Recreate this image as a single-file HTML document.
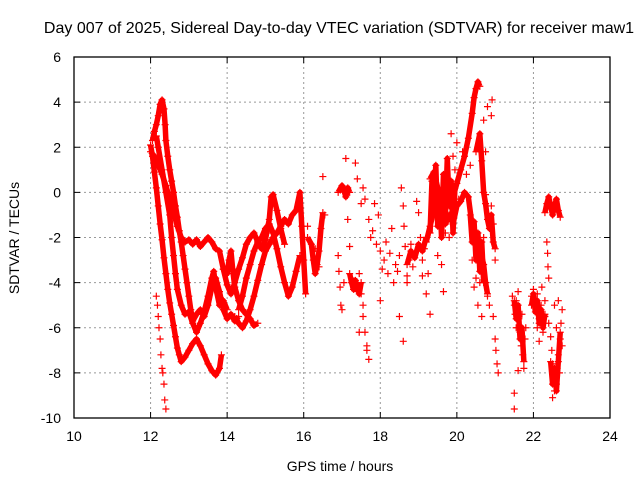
<!DOCTYPE html>
<html><head><meta charset="utf-8"><style>
body{margin:0;background:#fff;}
svg{display:block;font-family:"Liberation Sans",sans-serif;}
</style></head><body>
<svg id="c" width="640" height="480">
<text x="339" y="33" text-anchor="middle" font-size="16">Day 007 of 2025, Sidereal Day-to-day VTEC variation (SDTVAR) for receiver maw1</text>
<text x="340" y="471" text-anchor="middle" font-size="14">GPS time / hours</text>
<text transform="translate(19,238) rotate(-90)" text-anchor="middle" font-size="14">SDTVAR / TECUs</text>
<g id="grid"></g><g id="marks"></g><g id="axes"></g>
</svg>
<script>
const xTicks=[10,12,14,16,18,20,22,24];
const yTicks=[6,4,2,0,-2,-4,-6,-8,-10];
const traceA=[[12.0,2.1],[12.05,1.6],[12.1,0.9],[12.15,0.2],[12.2,-0.6],[12.25,-1.4],[12.3,-2.1],[12.35,-2.9],[12.4,-3.6],[12.45,-4.3],[12.5,-4.9],[12.55,-5.4],[12.6,-5.9],[12.65,-6.4],[12.7,-6.9],[12.75,-7.2],[12.8,-7.5],[12.9,-7.3],[13.0,-7.0],[13.1,-6.7],[13.2,-6.5],[13.3,-6.8],[13.4,-7.2],[13.5,-7.6],[13.6,-7.9],[13.7,-8.1],[13.8,-7.8],[13.85,-7.2]];
const traceB=[[12.05,2.3],[12.1,2.7],[12.15,3.0],[12.2,3.4],[12.25,3.9],[12.3,4.1],[12.35,3.7],[12.38,3.0],[12.4,2.3],[12.45,1.6],[12.5,1.0],[12.55,0.5],[12.6,0.0],[12.65,-0.6],[12.7,-1.1],[12.75,-1.7],[12.8,-2.2],[12.85,-2.8],[12.9,-3.4],[12.95,-4.0],[13.0,-4.6],[13.05,-5.2],[13.1,-5.7],[13.2,-5.4],[13.3,-5.2],[13.4,-5.5],[13.5,-5.0],[13.6,-4.2],[13.7,-3.8],[13.8,-4.4],[13.9,-5.2],[14.0,-5.6],[14.1,-5.4],[14.2,-5.7],[14.3,-5.5]];
const traceC=[[12.0,1.8],[12.1,1.6],[12.2,1.2],[12.3,0.8],[12.4,0.3],[12.5,-0.3],[12.6,-0.9],[12.7,-1.5],[12.8,-2.0],[12.9,-2.2],[13.0,-2.1],[13.1,-2.3],[13.2,-2.1],[13.3,-2.4],[13.4,-2.2],[13.5,-2.0],[13.6,-2.2],[13.7,-2.5],[13.8,-2.6],[13.9,-3.4],[14.0,-4.1],[14.1,-4.5],[14.2,-4.0],[14.3,-3.4],[14.4,-2.9],[14.5,-2.3],[14.6,-2.0],[14.7,-1.8],[14.8,-2.2],[14.9,-2.5],[15.0,-2.1],[15.1,-1.2],[15.15,-0.2],[15.2,-0.1],[15.3,-0.8],[15.4,-1.6],[15.5,-2.3]];
const traceD=[[12.15,2.5],[12.2,2.0],[12.3,1.0],[12.4,0.0],[12.5,-1.0],[12.55,-2.0],[12.6,-2.8],[12.65,-3.6],[12.7,-4.3],[12.8,-5.0],[12.9,-5.4],[13.0,-5.3],[13.1,-5.8],[13.2,-6.2],[13.3,-5.8],[13.4,-5.3],[13.5,-4.6],[13.6,-3.8],[13.65,-3.5],[13.7,-4.2],[13.8,-5.0],[13.9,-4.8],[14.0,-5.2]];
const traceE=[[14.2,-5.5],[14.3,-5.8],[14.4,-6.0],[14.5,-5.7],[14.6,-5.2],[14.7,-4.6],[14.8,-3.9],[14.9,-3.2],[15.0,-2.6],[15.1,-2.3],[15.2,-2.0],[15.3,-1.8],[15.4,-1.5],[15.5,-1.2],[15.6,-1.4],[15.7,-1.0],[15.8,-0.8],[15.9,0.0],[15.95,-1.5],[16.0,-3.0],[16.05,-4.5]];
const traceF=[[14.3,-5.2],[14.4,-4.6],[14.5,-3.8],[14.6,-3.2],[14.7,-2.6],[14.8,-2.2],[14.9,-2.0],[15.0,-1.6],[15.1,-1.4],[15.2,-1.8],[15.3,-2.5],[15.4,-3.3],[15.5,-4.0],[15.6,-4.6],[15.7,-4.2],[15.8,-3.5],[15.9,-2.8]];
const traceG=[[13.9,-3.4],[14.0,-3.6],[14.05,-3.0],[14.1,-2.6],[14.15,-3.5],[14.2,-4.2],[14.3,-4.8],[14.4,-5.2],[14.5,-5.4],[14.6,-5.6],[14.7,-5.9],[14.8,-5.8]];
const traceH=[[16.1,-2.0],[16.2,-2.3],[16.25,-3.0],[16.3,-3.6],[16.35,-3.2],[16.4,-2.6],[16.45,-1.6],[16.5,-0.9]];
const traceI=[[16.9,0.0],[17.0,0.3],[17.05,0.1],[17.1,-0.2],[17.15,0.2],[17.2,0.0]];
const traceJ=[[19.2,-2.2],[19.3,-1.5],[19.4,-0.8],[19.5,-0.4],[19.6,-0.8],[19.7,-0.2],[19.8,0.3],[19.9,-0.2],[20.0,0.4],[20.1,1.0],[20.2,1.6],[20.3,2.4],[20.4,3.5],[20.45,4.2],[20.5,4.6],[20.55,4.9],[20.6,4.7]];
const traceK=[[19.3,0.6],[19.4,0.9],[19.5,0.2],[19.6,-0.6],[19.7,-1.4],[19.8,-1.0],[19.9,-1.4],[20.0,-0.6],[20.1,-0.4],[20.2,0.0],[20.3,-0.2],[20.4,-1.5],[20.5,-2.0],[20.6,-2.5],[20.7,-3.2],[20.75,-4.0],[20.8,-4.5]];
const traceL=[[20.5,1.8],[20.6,2.6],[20.65,1.4],[20.7,0.0],[20.75,-0.5],[20.8,-1.2],[20.85,-1.6],[20.9,-1.0],[20.95,-2.2],[21.0,-2.5]];
const traceM=[[22.3,-0.9],[22.35,-0.5],[22.4,-0.2],[22.45,-0.6],[22.5,-1.0],[22.55,-0.6],[22.6,-0.3],[22.65,-0.8],[22.7,-1.1]];
const traceN=[[17.2,-3.6],[17.25,-4.0],[17.3,-4.3],[17.35,-3.9],[17.4,-4.2],[17.45,-4.5],[17.5,-4.0]];
const traceO=[[19.3,-1.8],[19.35,0.5],[19.4,-0.5],[19.45,1.2],[19.5,-1.5],[19.55,0.0],[19.6,-2.0],[19.65,0.8],[19.7,-1.0],[19.75,1.5],[19.8,-0.6],[19.85,0.5],[19.9,-1.8],[19.95,0.2]];
const traceP=[[18.7,-3.2],[18.8,-2.6],[18.9,-2.9],[19.0,-2.3],[19.1,-2.6],[19.2,-2.0]];
const traceQ=[[20.35,-1.0],[20.4,-2.2],[20.45,-1.3],[20.5,-3.0],[20.55,-1.8],[20.6,-3.5],[20.65,-2.2],[20.7,-4.0]];
const traceR=[[21.95,-5.0],[22.0,-4.5],[22.05,-5.3],[22.1,-4.8],[22.15,-5.8],[22.2,-5.2],[22.25,-6.0],[22.3,-5.4]];
const traceS=[[22.45,-7.5],[22.5,-8.5],[22.55,-7.8],[22.6,-8.8],[22.65,-7.5],[22.7,-6.2]];
const traceT=[[21.5,-4.8],[21.55,-5.6],[21.6,-5.0],[21.65,-6.5],[21.7,-6.0],[21.75,-7.5]];
const scatterPts=[[12.15,-4.6],[12.18,-5.0],[12.2,-5.5],[12.22,-6.0],[12.25,-6.5],[12.27,-7.2],[12.3,-7.8],[12.32,-8.0],[12.35,-8.5],[12.37,-9.2],[12.4,-9.6],
[16.1,-1.5],[16.3,-2.5],[16.4,-3.3],[16.5,0.7],[16.55,-1.0],[16.9,-2.8],[16.92,-3.5],[16.95,-4.2],[16.97,-5.0],[17.0,-5.2],[17.05,-4.0],[17.1,1.5],[17.15,-1.2],[17.2,-2.4],[17.25,-3.8],[17.3,-4.2],[17.35,-4.0],[17.4,-4.4],[17.45,-3.6],[17.5,-4.5],[17.55,-5.5],[17.6,-6.2],[17.65,-7.0],[17.7,-7.4],[17.35,1.3],[17.4,0.6],[17.5,-0.5],[17.55,0.2],[17.6,-0.3],[17.7,-1.2],[17.75,-2.0],[17.8,-1.7],[17.85,-0.5],[17.9,-2.3],[17.95,-1.0],[18.0,-2.6],[18.05,-3.4],[18.1,-3.0],[18.15,-2.2],[18.2,-3.6],[18.25,-2.7],[18.3,-1.6],[18.35,-4.0],[18.4,-3.2],[18.45,-3.5],[18.5,-2.8],[18.55,0.2],[18.6,-0.6],[18.62,-1.5],[18.65,-2.4],[18.7,-4.0],[18.75,-3.0],[18.8,-2.3],[18.85,-3.3],[18.9,-2.7],[18.95,-0.4],[19.0,-0.9],[19.05,-2.0],[19.1,-3.0],[19.15,-2.5],[19.2,-4.5],[19.25,-3.6],[18.6,-6.6],[18.7,-3.7],[17.45,-6.2],[17.65,-6.8],[17.55,-5.0],[18.5,-5.5],[18.0,-4.8],[19.1,-3.7],[19.3,-5.4],[19.5,-2.8],[19.6,-3.2],[19.65,-4.4],[19.7,-1.8],[19.8,-2.0],[19.85,2.6],[19.9,1.6],[19.95,1.0],[20.0,2.2],[20.05,-0.3],[20.15,1.8],[20.25,0.8],[20.35,1.2],[20.4,-3.0],[20.45,-4.2],[20.5,-3.8],[20.55,-5.0],[20.6,-4.0],[20.65,-5.5],[20.7,-2.0],[20.75,-0.1],[20.8,-4.6],[20.85,-5.0],[20.9,3.4],[20.92,4.1],[20.95,-5.5],[21.0,-6.5],[21.02,-7.0],[21.05,-7.6],[21.08,-8.0],[20.9,-0.6],[20.95,-1.4],[21.0,-3.0],[20.75,1.8],[20.8,3.8],[20.7,3.2],
[21.45,-4.6],[21.5,-5.0],[21.52,-5.4],[21.55,-4.8],[21.6,-4.4],[21.62,-5.6],[21.65,-6.2],[21.68,-6.8],[21.7,-5.4],[21.72,-7.2],[21.75,-7.8],[21.78,-6.5],[21.8,-6.0],[21.55,-6.0],[21.5,-8.9],[21.5,-9.6],[21.6,-7.9],
[21.95,-4.6],[22.0,-4.3],[22.05,-5.0],[22.1,-4.5],[22.15,-5.6],[22.2,-5.0],[22.25,-6.2],[22.3,-5.5],[22.22,-4.2],[22.1,-6.0],[22.15,-6.6],[22.3,-4.8],[22.35,-2.2],[22.37,-2.7],[22.38,-3.3],[22.4,-3.8],
[22.4,-5.8],[22.45,-6.4],[22.48,-7.0],[22.5,-7.6],[22.52,-8.2],[22.55,-8.8],[22.5,-9.1],[22.6,-8.5],[22.62,-7.8],[22.65,-7.2],[22.7,-6.5],[22.72,-5.8],[22.75,-5.2],[22.68,-8.0],[22.6,-6.0],[22.65,-4.8],[22.75,-6.8],[22.55,-5.0]];

const L=74,R=610,T=57,B=418;
const xs=t=>L+(t-10)/14*(R-L);
const ys=v=>T+(6-v)/16*(B-T);
const NS="http://www.w3.org/2000/svg";
function mk(tag,attrs,parent){const e=document.createElementNS(NS,tag);for(const k in attrs)e.setAttribute(k,attrs[k]);parent.appendChild(e);return e;}
const grid=document.getElementById('grid'),marks=document.getElementById('marks'),axes=document.getElementById('axes');
xTicks.forEach(t=>{const x=xs(t);
 if(t>10&&t<24){const g=mk('line',{x1:x,x2:x,y1:T,y2:B,stroke:'#999','stroke-dasharray':'2,3'},grid);
 
 }
 const tk=mk('path',{d:`M${x},${B}v-6M${x},${T}v6`,stroke:'#000'},axes);
 
 
 const lb=mk('text',{x:x,y:B+23,'text-anchor':'middle','font-size':14},axes);lb.textContent=t;
 
 
});
yTicks.forEach(v=>{const y=ys(v);
 if(v<6&&v>-10){const g=mk('line',{x1:L,x2:R,y1:y,y2:y,stroke:'#999','stroke-dasharray':'2,3'},grid);
 
 }
 const tk=mk('path',{d:`M${L},${y}h6M${R},${y}h-6`,stroke:'#000'},axes);
 
 
 const lb=mk('text',{x:L-13,y:y+5,'text-anchor':'end','font-size':14},axes);lb.textContent=v;
 
 
});
const frame=mk('rect',{x:L,y:T,width:R-L,height:B-T,fill:'none',stroke:'#000','stroke-width':1.3},axes);


function plus(t,v){const x=xs(t),y=ys(v);
 const p=mk('path',{d:`M${x-3.5},${y}h7M${x},${y-3.5}v7`,stroke:'#f00','stroke-width':1.2},marks);
 
 }
[traceA,traceB,traceC,traceD,traceE,traceF,traceG,traceH,traceI,traceJ,traceK,traceL,traceM,traceN,traceO,traceP,traceQ,traceR,traceS,traceT].forEach(tr=>{
 const pl=mk('polyline',{points:tr.map(p=>xs(p[0])+','+ys(p[1])).join(' '),fill:'none',stroke:'#f00','stroke-width':5.5,'stroke-linejoin':'round'},marks);
 
 
 tr.forEach(p=>plus(p[0],p[1]));
});
scatterPts.forEach(p=>plus(p[0],p[1]));
</script>
</body></html>
